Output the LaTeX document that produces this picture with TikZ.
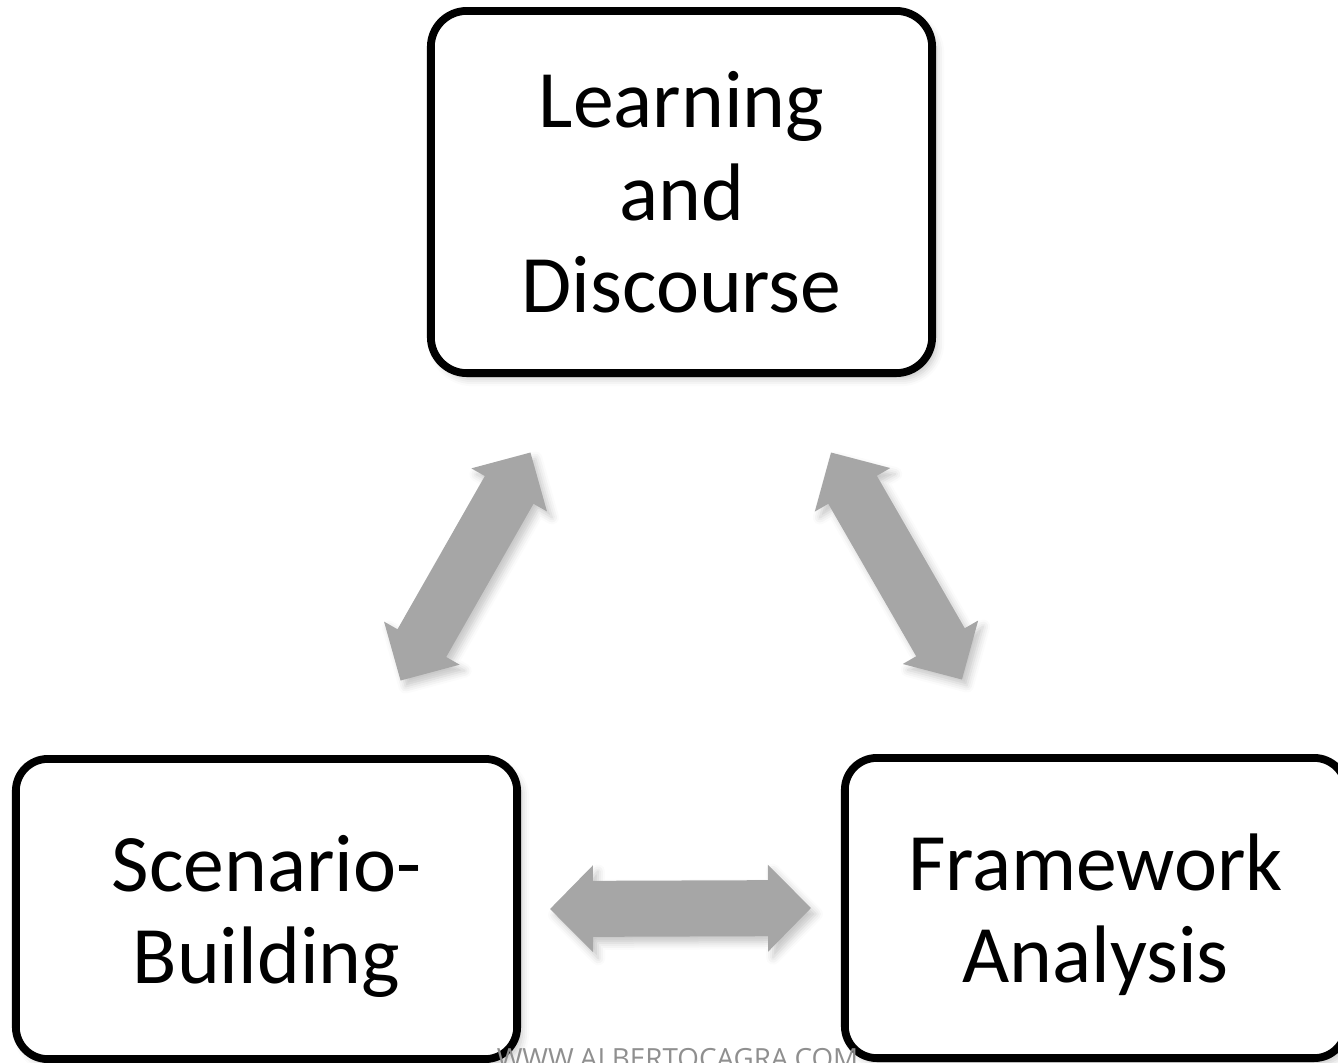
\documentclass[tikz,border=0pt]{standalone}
\usepackage{fontspec}
\setmainfont{Carlito}
\newfontfamily\markfont{Open Sans}
\usetikzlibrary{calc,shadows.blur}
\definecolor{arrowgray}{HTML}{A6A6A6}
\definecolor{markgray}{HTML}{8F8F8F}
\tikzset{
	softshadow/.style={blur shadow={shadow xshift=0.5mm, shadow yshift=-0.6mm, shadow blur radius=0.7mm, shadow opacity=22}},
	stage/.style={draw=black, line width=0.78mm, fill=white, align=center, inner sep=0pt, minimum width=5.01cm, text depth=0pt, font=\fontsize{23.2pt}{26.2pt}\selectfont, softshadow},
	link/.style={fill=arrowgray, softshadow}
}
\def\blockarrow(#1)(#2){\fill[link] (#1) -- ($(#1)!4.3mm!(#2)!4.35mm!90:(#2)$) -- ($(#1)!4.3mm!(#2)!2.8mm!90:(#2)$) -- ($(#2)!4.3mm!(#1)!2.8mm!-90:(#1)$) -- ($(#2)!4.3mm!(#1)!4.35mm!-90:(#1)$) -- (#2) -- ($(#2)!4.3mm!(#1)!4.35mm!90:(#1)$) -- ($(#2)!4.3mm!(#1)!2.8mm!90:(#1)$) -- ($(#1)!4.3mm!(#2)!2.8mm!-90:(#2)$) -- ($(#1)!4.3mm!(#2)!4.35mm!-90:(#2)$) -- cycle;}

\begin{document}
\begin{tikzpicture}[x=0.01cm, y=-0.01cm]
			%%%%% START %%%%%
			\useasboundingbox (0, 0) rectangle (1338, 1062);
			
			% the three stages
			\node[stage, minimum height=3.62cm, rounded corners=3.6mm] (ld) at (681.5, 192) {Learning\\and\\Discourse};
			\node[stage, minimum height=3cm, rounded corners=3.2mm] (sb) at (266.5, 909) {Scenario-\\Building};
			\node[stage, minimum height=3cm, rounded corners=3.2mm] (fa) at (1095.5, 908) {Framework\\Analysis};
			
			% arrow ends
			\coordinate (l1) at ($(sb.north east)+(-120.5, -74.5)$);
			\coordinate (l2) at ($(ld.south west)+(103.5, 75.5)$);
			\coordinate (r1) at ($(ld.south east)+(-105, 75.5)$);
			\coordinate (r2) at ($(fa.north west)+(121, -74.5)$);
			\coordinate (h1) at ($(sb.east)+(29, 0)$);
			\coordinate (h2) at ($(fa.west)+(-30, 0)$);
			
			\blockarrow(l1)(l2)
			\blockarrow(r1)(r2)
			\blockarrow(h1)(h2)
			
			\node[anchor=base, text=markgray, font=\markfont\fontsize{7.9pt}{9pt}\selectfont] (mark) at (677.5, 1068) {WWW.ALBERTOCAGRA.COM};
			
			%%%%% END %%%%%
\end{tikzpicture}
\end{document}
